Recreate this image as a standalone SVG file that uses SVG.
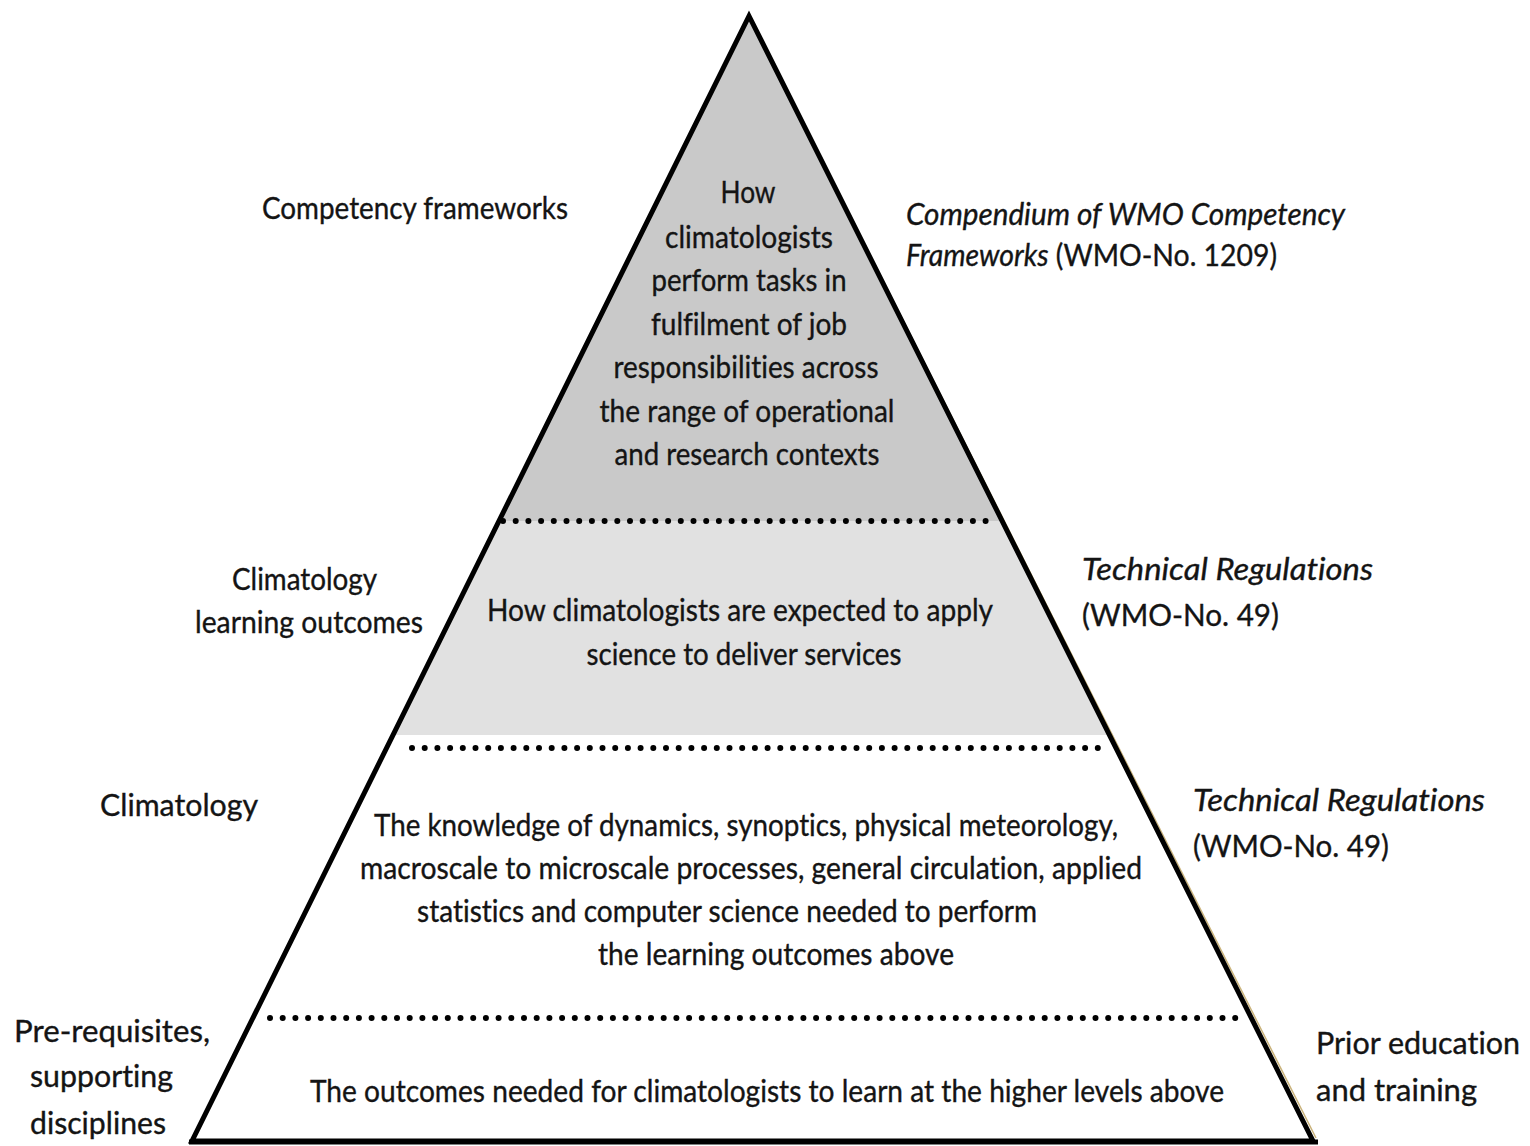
<svg xmlns="http://www.w3.org/2000/svg" width="1530" height="1146" viewBox="0 0 1530 1146">
  <style>
    text { font-family: Lato, "Open Sans", "Liberation Sans", sans-serif; font-size: 30px; fill: #141414; stroke: #141414; stroke-width: 0.35px; font-variant-ligatures: none; font-feature-settings: "liga" 0, "dlig" 0; }
    .c { text-anchor: middle; }
    .it { font-style: italic; }
    .edge { fill: none; stroke: #000; stroke-width: 5; stroke-linejoin: miter; }
    .dots { fill: none; stroke: #000; stroke-width: 6; stroke-linecap: round; stroke-dasharray: 0 12.7; }
  </style>

  <rect width="1530" height="1146" fill="#fff"/>

  <!-- pyramid tiers -->
  <g id="tier-competency">
    <polygon points="749,16 499,521 1002,521" fill="#c9c9c9"/>
    <g>
      <text class="c" x="748" y="203" textLength="55" lengthAdjust="spacingAndGlyphs">How</text>
      <text class="c" x="749" y="248" textLength="168" lengthAdjust="spacingAndGlyphs">climatologists</text>
      <text class="c" x="749" y="291" textLength="195" lengthAdjust="spacingAndGlyphs">perform tasks in</text>
      <text class="c" x="749" y="335" textLength="196" lengthAdjust="spacingAndGlyphs">fulfilment of job</text>
      <text class="c" x="746" y="378" textLength="265" lengthAdjust="spacingAndGlyphs">responsibilities across</text>
      <text class="c" x="747" y="422" textLength="295" lengthAdjust="spacingAndGlyphs">the range of operational</text>
      <text class="c" x="747" y="465" textLength="265" lengthAdjust="spacingAndGlyphs">and research contexts</text>
    </g>
  </g>

  <g id="tier-learning-outcomes">
    <polygon points="499,521 1002,521 1109,735 393,735" fill="#e1e1e1"/>
    <text class="c" x="740" y="621" textLength="506" lengthAdjust="spacingAndGlyphs">How climatologists are expected to apply</text>
    <text class="c" x="744" y="665" textLength="315" lengthAdjust="spacingAndGlyphs">science to deliver services</text>
  </g>

  <g id="tier-knowledge">
    <text x="374" y="836" textLength="744" lengthAdjust="spacingAndGlyphs">The knowledge of dynamics, synoptics, physical meteorology,</text>
    <text x="360" y="879" textLength="782" lengthAdjust="spacingAndGlyphs">macroscale to microscale processes, general circulation, applied</text>
    <text x="417" y="922" textLength="620" lengthAdjust="spacingAndGlyphs">statistics and computer science needed to perform</text>
    <text x="598" y="965" textLength="356" lengthAdjust="spacingAndGlyphs">the learning outcomes above</text>
  </g>

  <g id="tier-prerequisites">
    <text x="310" y="1102" textLength="914" lengthAdjust="spacingAndGlyphs">The outcomes needed for climatologists to learn at the higher levels above</text>
  </g>

  <!-- pyramid outline and tier dividers -->
  <g id="connectors">
    <line x1="751" y1="20" x2="1316" y2="1138" stroke="#c9b27a" stroke-width="1.5"/>
    <polygon class="edge" points="749,16 1313,1141 192,1141"/>
    <line class="edge" x1="189" y1="1142" x2="1318" y2="1142"/>
    <line class="dots" x1="503" y1="521" x2="998" y2="521"/>
    <line class="dots" x1="412" y1="748" x2="1106" y2="748"/>
    <line class="dots" x1="270" y1="1018" x2="1245" y2="1018"/>
  </g>

  <!-- left-hand labels -->
  <g id="label-competency-frameworks">
    <text x="262" y="219" textLength="306" lengthAdjust="spacingAndGlyphs">Competency frameworks</text>
  </g>
  <g id="label-climatology-learning-outcomes">
    <text x="232" y="590" textLength="145" lengthAdjust="spacingAndGlyphs">Climatology</text>
    <text x="195" y="633" textLength="228" lengthAdjust="spacingAndGlyphs">learning outcomes</text>
  </g>
  <g id="label-climatology">
    <text x="100" y="816" textLength="158" lengthAdjust="spacingAndGlyphs">Climatology</text>
  </g>
  <g id="label-prerequisites">
    <text x="14" y="1042" textLength="196" lengthAdjust="spacingAndGlyphs">Pre-requisites,</text>
    <text x="30" y="1087" textLength="143" lengthAdjust="spacingAndGlyphs">supporting</text>
    <text x="30" y="1134" textLength="136" lengthAdjust="spacingAndGlyphs">disciplines</text>
  </g>

  <!-- right-hand labels -->
  <g id="label-compendium">
    <text class="it" x="906" y="225" textLength="439" lengthAdjust="spacingAndGlyphs">Compendium of WMO Competency</text>
    <text x="906" y="266" textLength="371" lengthAdjust="spacingAndGlyphs"><tspan class="it">Frameworks</tspan> (WMO-No. 1209)</text>
  </g>
  <g id="label-technical-regulations-1">
    <text class="it" x="1082" y="580" textLength="291" lengthAdjust="spacingAndGlyphs">Technical Regulations</text>
    <text x="1082" y="626" textLength="197" lengthAdjust="spacingAndGlyphs">(WMO-No. 49)</text>
  </g>
  <g id="label-technical-regulations-2">
    <text class="it" x="1193" y="811" textLength="292" lengthAdjust="spacingAndGlyphs">Technical Regulations</text>
    <text x="1193" y="857" textLength="196" lengthAdjust="spacingAndGlyphs">(WMO-No. 49)</text>
  </g>
  <g id="label-prior-education">
    <text x="1316" y="1054" textLength="204" lengthAdjust="spacingAndGlyphs">Prior education</text>
    <text x="1316" y="1101" textLength="161" lengthAdjust="spacingAndGlyphs">and training</text>
  </g>
</svg>
